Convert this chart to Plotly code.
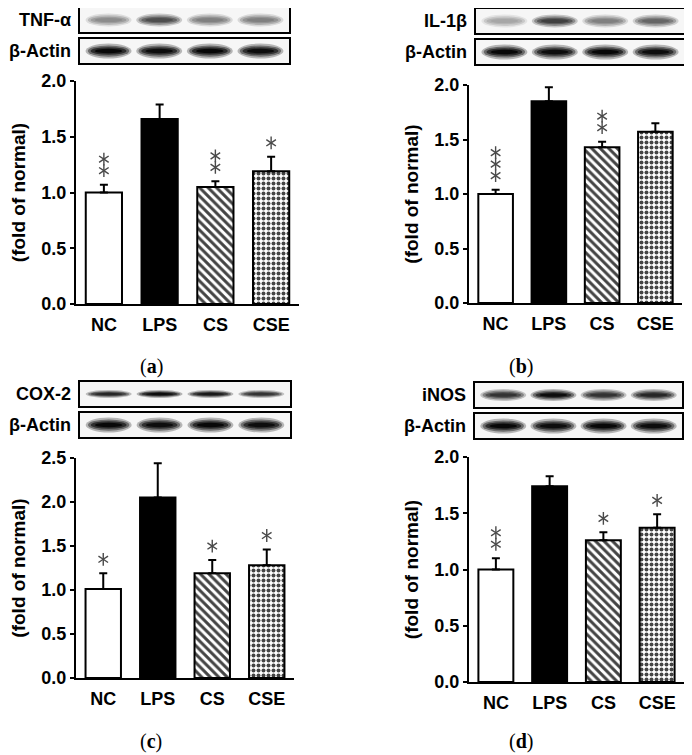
import plotly.graph_objects as go

groups = ["NC", "LPS", "CS", "CSE"]

tnf_mean = [1.00, 1.66, 1.05, 1.19]
tnf_err = [0.07, 0.13, 0.05, 0.13]
tnf_stars = [2, 0, 2, 1]

il1b_mean = [1.00, 1.85, 1.43, 1.57]
il1b_err = [0.04, 0.13, 0.05, 0.08]
il1b_stars = [3, 0, 2, 0]

cox2_mean = [1.01, 2.05, 1.19, 1.28]
cox2_err = [0.18, 0.39, 0.15, 0.18]
cox2_stars = [1, 0, 1, 1]

inos_mean = [1.00, 1.74, 1.26, 1.37]
inos_err = [0.10, 0.09, 0.07, 0.12]
inos_stars = [2, 0, 1, 1]

# band darkness (0 = empty lane, 1 = black)
tnf_bands = [0.45, 0.7, 0.5, 0.5]
il1b_bands = [0.35, 0.75, 0.5, 0.6]
cox2_bands = [0.85, 0.95, 0.9, 0.8]
inos_bands = [0.8, 0.95, 0.8, 0.85]
actin_bands = [0.97, 0.95, 0.97, 0.95]

W, H = 692, 755
OFF = 8  # the page body margin puts the figure 8px in from the window corner
SANS = "Arial, Liberation Sans, sans-serif"
SERIF = "Liberation Serif, Times New Roman, serif"

panels = [
    dict(key="", mean=tnf_mean, err=tnf_err, stars=tnf_stars, bands=tnf_bands,
         name="TNF-α", letter="a", ymax=2.0, ax=(76, 299), ay=(304, 81),
         box=(79, 290, 7), band_h=13, letter_xy=(151, 366)),
    dict(key="2", mean=il1b_mean, err=il1b_err, stars=il1b_stars, bands=il1b_bands,
         name="IL-1β", letter="b", ymax=2.0, ax=(469, 682), ay=(303, 85),
         box=(475, 685, 8), band_h=13, letter_xy=(521, 366)),
    dict(key="3", mean=cox2_mean, err=cox2_err, stars=cox2_stars, bands=cox2_bands,
         name="COX-2", letter="c", ymax=2.5, ax=(76, 294), ay=(678, 458),
         box=(79, 291, 381), band_h=8, letter_xy=(151, 741)),
    dict(key="4", mean=inos_mean, err=inos_err, stars=inos_stars, bands=inos_bands,
         name="iNOS", letter="d", ymax=2.0, ax=(469, 684), ay=(682, 457),
         box=(474, 683, 382), band_h=12, letter_xy=(521, 741)),
]


def gray(d):
    v = int(round(255 * (1 - d)))
    return f"rgb({v},{v},{v})"


def px_x(x):
    return (x - OFF) / W


def px_y(y):
    return 1 - (y - OFF) / H


fig = go.Figure()
shapes = []
annotations = []
layout = {}

for p in panels:
    k = p["key"]
    fig.add_trace(go.Bar(
        x=groups,
        y=p["mean"],
        xaxis="x" + k,
        yaxis="y" + k,
        width=0.65,
        marker=dict(
            color=["white", "black", "white", "white"],
            line=dict(color="black", width=2),
            pattern=dict(shape=["", "", "\\", "."], fgcolor="black", fgopacity=1,
                         fillmode="overlay", size=[6, 6, 6, 5],
                         solidity=[0.5, 0.5, 0.5, 0.5]),
        ),
        error_y=dict(type="data", symmetric=False, array=p["err"],
                     arrayminus=[0] * 4, color="black", thickness=2, width=4),
        showlegend=False,
        hoverinfo="skip",
    ))

    x0, x1 = p["ax"]
    y0, y1 = p["ay"]
    layout["xaxis" + k] = dict(
        domain=[px_x(x0), px_x(x1)], anchor="y" + k, automargin=False,
        showline=True, linecolor="black", linewidth=2,
        ticks="", showgrid=False, zeroline=False,
        ticklabelstandoff=3,
        tickfont=dict(family=SANS, size=18, color="black", weight="bold"),
    )
    layout["yaxis" + k] = dict(
        domain=[px_y(y0), px_y(y1)], anchor="x" + k, automargin=False,
        range=[0, p["ymax"]], dtick=0.5, tickformat=".1f",
        showline=True, linecolor="black", linewidth=2,
        ticks="outside", ticklen=4, tickwidth=2, tickcolor="black",
        showgrid=False, zeroline=False,
        tickfont=dict(family=SANS, size=18, color="black", weight="bold"),
        title=dict(text="(fold of normal)", standoff=11,
                   font=dict(family=SANS, size=19, color="black", weight="bold")),
    )

    # significance stars stacked above the error bars (6-spoke asterisks)
    ppu = (y0 - y1) / p["ymax"]
    sx, sy = [], []
    for i, n in enumerate(p["stars"]):
        for s in range(n):
            sx.append(groups[i])
            sy.append(p["mean"][i] + p["err"][i] + (14 + 11.5 * s) / ppu)
    for sym in ["y-up-open", "y-down-open"]:
        fig.add_trace(go.Scatter(
            x=sx, y=sy, xaxis="x" + k, yaxis="y" + k, mode="markers",
            marker=dict(symbol=sym, size=8, color="#4a4a4a",
                        line=dict(color="#4a4a4a", width=1.4)),
            showlegend=False, hoverinfo="skip", cliponaxis=False,
        ))

    # western blot strips
    bx0, bx1, by = p["box"]
    bw = bx1 - bx0
    lanes = [0.14, 0.38, 0.62, 0.86]
    for row, (bands, bh, label) in enumerate([(p["bands"], p["band_h"], p["name"]),
                                              (actin_bands, 15, "β-Actin")]):
        top = by + row * 31
        bot = top + 26
        shapes.append(dict(type="rect", xref="paper", yref="paper",
                           x0=px_x(bx0), x1=px_x(bx1), y0=px_y(bot), y1=px_y(top),
                           line=dict(color="black", width=2), fillcolor="#f6f6f6",
                           layer="below"))
        cy = (top + bot) / 2
        for li, d in zip(lanes, bands):
            cx = bx0 + li * bw
            for sw, sh, f in [(1.0, 1.0, 0.3), (0.9, 0.75, 0.6), (0.78, 0.5, 0.85),
                              (0.6, 0.3, 1.0)]:
                hw = 0.5 * 46 * sw
                hh = 0.5 * bh * sh
                shapes.append(dict(type="circle", xref="paper", yref="paper",
                                   x0=px_x(cx - hw), x1=px_x(cx + hw),
                                   y0=px_y(cy + hh), y1=px_y(cy - hh),
                                   line=dict(width=0), fillcolor=gray(d * f),
                                   layer="below"))
        annotations.append(dict(
            x=px_x(bx0 - 6), y=px_y(cy), xref="paper", yref="paper",
            xanchor="right", yanchor="middle", text=label, showarrow=False,
            font=dict(family=SANS, size=18, color="black", weight="bold"),
        ))

    lx, ly = p["letter_xy"]
    annotations.append(dict(
        x=px_x(lx), y=px_y(ly), xref="paper", yref="paper",
        xanchor="center", yanchor="middle", showarrow=False,
        text="(<b>" + p["letter"] + "</b>)",
        font=dict(family=SERIF, size=20, color="black"),
    ))

fig.update_layout(
    width=W, height=H,
    margin=dict(l=0, r=0, t=0, b=0, autoexpand=False),
    plot_bgcolor="white", paper_bgcolor="white",
    shapes=shapes,
    annotations=annotations,
    **layout,
)

fig.write_html("out.html")
